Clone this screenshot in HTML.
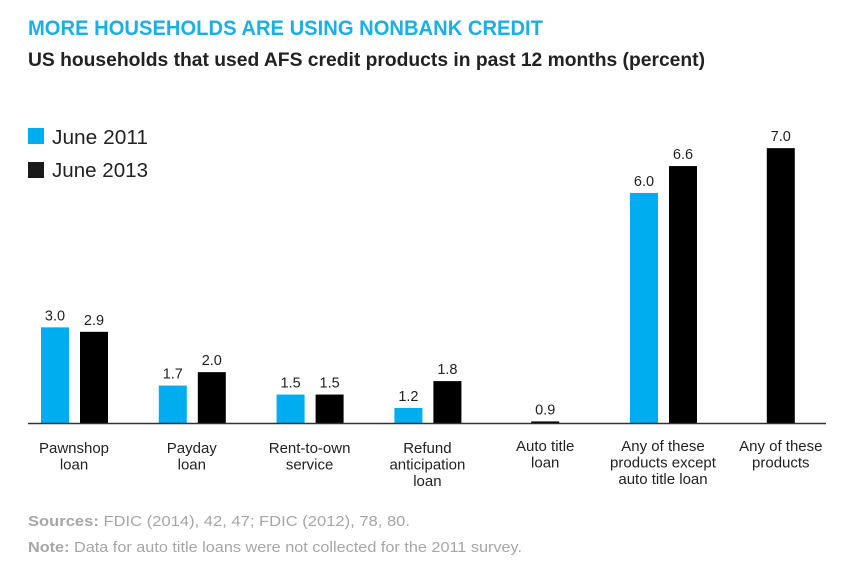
<!DOCTYPE html>
<html><head><meta charset="utf-8"><style>
body{margin:0;background:#fff;width:855px;height:578px;overflow:hidden;font-family:"Liberation Sans",sans-serif}
svg text{font-family:"Liberation Sans",sans-serif}
</style></head><body>
<svg width="855" height="578">
<text x="28" y="35" font-size="21" font-weight="bold" fill="#1ab0e6" textLength="515" lengthAdjust="spacingAndGlyphs">MORE HOUSEHOLDS ARE USING NONBANK CREDIT</text>
<text x="28" y="66" font-size="19" font-weight="bold" fill="#222" textLength="677" lengthAdjust="spacingAndGlyphs">US households that used AFS credit products in past 12 months (percent)</text>
<rect x="28" y="128" width="16" height="16" fill="#00aeef"/>
<text x="52" y="144" font-size="20" fill="#222" textLength="96" lengthAdjust="spacingAndGlyphs">June 2011</text>
<rect x="28" y="162" width="16" height="16" fill="#1a1a1a"/>
<text x="52" y="177" font-size="20" fill="#222" textLength="96" lengthAdjust="spacingAndGlyphs">June 2013</text>
<g id="plot"></g>
<line x1="28" y1="423.5" x2="826" y2="423.5" stroke="#333" stroke-width="1.5"/>
<text x="28" y="526" font-size="15" fill="#a6a6a6" textLength="382" lengthAdjust="spacingAndGlyphs"><tspan font-weight="bold">Sources:</tspan> FDIC (2014), 42, 47; FDIC (2012), 78, 80.</text>
<text x="28" y="552" font-size="15" fill="#a6a6a6" textLength="494" lengthAdjust="spacingAndGlyphs"><tspan font-weight="bold">Note:</tspan> Data for auto title loans were not collected for the 2011 survey.</text>
</svg>
<script>
const categories=[["Pawnshop","loan"],["Payday","loan"],["Rent-to-own","service"],["Refund","anticipation","loan"],["Auto title","loan"],["Any of these","products except","auto title loan"],["Any of these","products"]];
const values2011=[3.0,1.7,1.5,1.2,null,6.0,null];
const values2013=[2.9,2.0,1.5,1.8,0.9,6.6,7.0];
const yMin=0.865, yScale=44.8, baseY=423;
function y(v){return baseY-yScale*(v-yMin);}
function xc(i){return 74+i*117.8;}
const g=document.getElementById('plot');
const NS="http://www.w3.org/2000/svg";
function bar(x,v,fill,name){
  const r=document.createElementNS(NS,'rect');
  r.setAttribute('x',x);r.setAttribute('y',y(v));r.setAttribute('width',28);r.setAttribute('height',baseY-y(v));r.setAttribute('fill',fill);
  
  
  g.appendChild(r);
  const t=document.createElementNS(NS,'text');
  t.setAttribute('x',x+14);t.setAttribute('y',y(v)-7);t.setAttribute('text-anchor','middle');t.setAttribute('font-size','14.5');t.setAttribute('fill','#222');
  t.textContent=v.toFixed(1);
  
  
  g.appendChild(t);
}
categories.forEach((c,i)=>{
  const cx=xc(i);
  const has=values2011[i]!==null;
  if(has){bar(cx-33,values2011[i],'#00aeef','bar-2011-'+i);bar(cx+6,values2013[i],'#000','bar-2013-'+i);}
  else bar(cx-14,values2013[i],'#000','bar-2013-'+i);
  c.forEach((line,j)=>{
    const t=document.createElementNS(NS,'text');
    t.setAttribute('x',cx);t.setAttribute('y',(i>=4?451:453)+j*16.5);t.setAttribute('text-anchor','middle');t.setAttribute('font-size','15');t.setAttribute('fill','#222');
    t.textContent=line;
    
    
    g.appendChild(t);
  });
});
</script>
</body></html>
